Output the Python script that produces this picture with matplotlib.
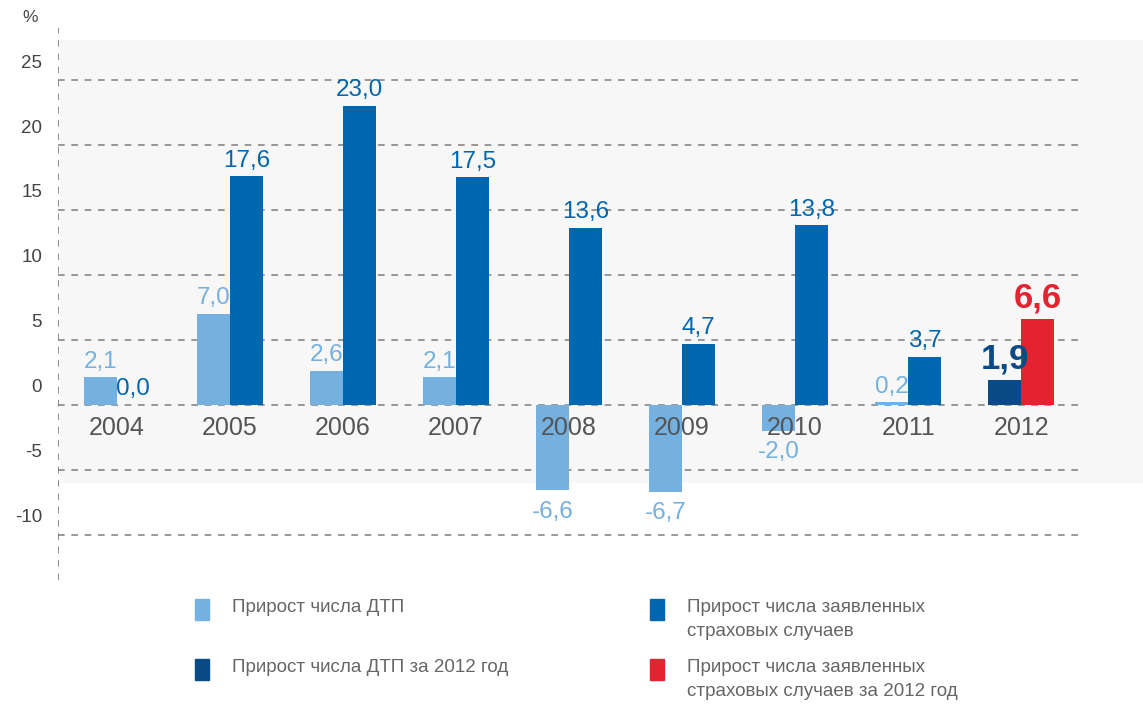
import matplotlib.pyplot as plt
from matplotlib.patches import Rectangle

# data
years = ["2004", "2005", "2006", "2007", "2008", "2009", "2010", "2011", "2012"]
dtp = [2.1, 7.0, 2.6, 2.1, -6.6, -6.7, -2.0, 0.2, 1.9]
claims = [0.0, 17.6, 23.0, 17.5, 13.6, 4.7, 13.8, 3.7, 6.6]
yticks = [25, 20, 15, 10, 5, 0, -5, -10]

c_light = "#74b0e0"
c_blue = "#0066b0"
c_navy = "#0a4a86"
c_red = "#e52330"

plt.rcParams['font.family'] = ['Liberation Sans', 'DejaVu Sans']

fig = plt.figure(figsize=(11.43, 7.04), dpi=100)
# light backdrop behind the upper part of the chart
fig.patches.append(Rectangle((60/1143, 1 - 482/704), 1, 442/704, transform=fig.transFigure,
                             color="#f7f7f7", zorder=-10))
ax = fig.add_axes([58/1143, 1 - 580/704, (1080-58)/1143, (580-28)/704])
ax.set_zorder(1)
ax.patch.set_alpha(0)

n = len(years)
w = 0.29
xs = list(range(n))
light_cols = [c_light] * (n - 1) + [c_navy]
dark_cols = [c_blue] * (n - 1) + [c_red]
ax.bar([x - w/2 for x in xs], dtp, w, color=light_cols, zorder=3)
ax.bar([x + w/2 for x in xs], claims, w, color=dark_cols, zorder=3)

def fmt(v):
    return ("%.1f" % v).replace(".", ",")

for i in xs:
    last = i == n - 1
    size = 25 if last else 17.5
    weight = "bold" if last else "normal"
    # ДТП labels
    v = dtp[i]
    col = c_navy if last else c_light
    if v >= 0:
        ax.text(i - w/2, v + 0.35, fmt(v), ha="center", va="bottom", color=col,
                fontsize=size, fontweight=weight, zorder=4)
    else:
        ax.text(i - w/2, v - 0.8, fmt(v), ha="center", va="top", color=col,
                fontsize=size, fontweight=weight, zorder=4)
    # claims labels
    v = claims[i]
    col = c_red if last else c_blue
    ax.text(i + w/2, v + 0.35, fmt(v), ha="center", va="bottom", color=col,
            fontsize=size, fontweight=weight, zorder=4)
    # year labels
    ax.text(i, -0.9, years[i], ha="center", va="top", color="#555555", fontsize=18, zorder=5)

for y in yticks:
    ax.axhline(y, color="#888888", lw=1.2, ls=(0, (4, 4)), zorder=2)
    ax.text(-0.66, y + 1.3, str(y), ha="right", va="center", color="#444444", fontsize=13.5)

ax.axvline(-0.52, color="#777777", lw=1.2, ls=(0, (4, 4)), zorder=2)
ax.set_xlim(-0.52, 8.52)
ax.set_ylim(-13.5, 29)
ax.set_xticks([])
ax.set_yticks([])
for s in ax.spines.values():
    s.set_visible(False)

fig.text(30/1143, 1 - 18/704, "%", ha="center", va="center", color="#444444", fontsize=12.5)

# legend
legend = [
    (195, 610, c_light, "Прирост числа ДТП"),
    (650, 610, c_blue, "Прирост числа заявленных\nстраховых случаев"),
    (195, 670, c_navy, "Прирост числа ДТП за 2012 год"),
    (650, 670, c_red, "Прирост числа заявленных\nстраховых случаев за 2012 год"),
]
for x, y, col, label in legend:
    fig.patches.append(Rectangle((x/1143, 1 - (y + 10)/704), 14/1143, 21/704,
                                 transform=fig.transFigure, color=col))
    fig.text((x + 37)/1143, 1 - (y - 11)/704, label, ha="left", va="top",
             color="#666666", fontsize=13.5, linespacing=1.5)

fig.savefig("out.png", dpi=100)
